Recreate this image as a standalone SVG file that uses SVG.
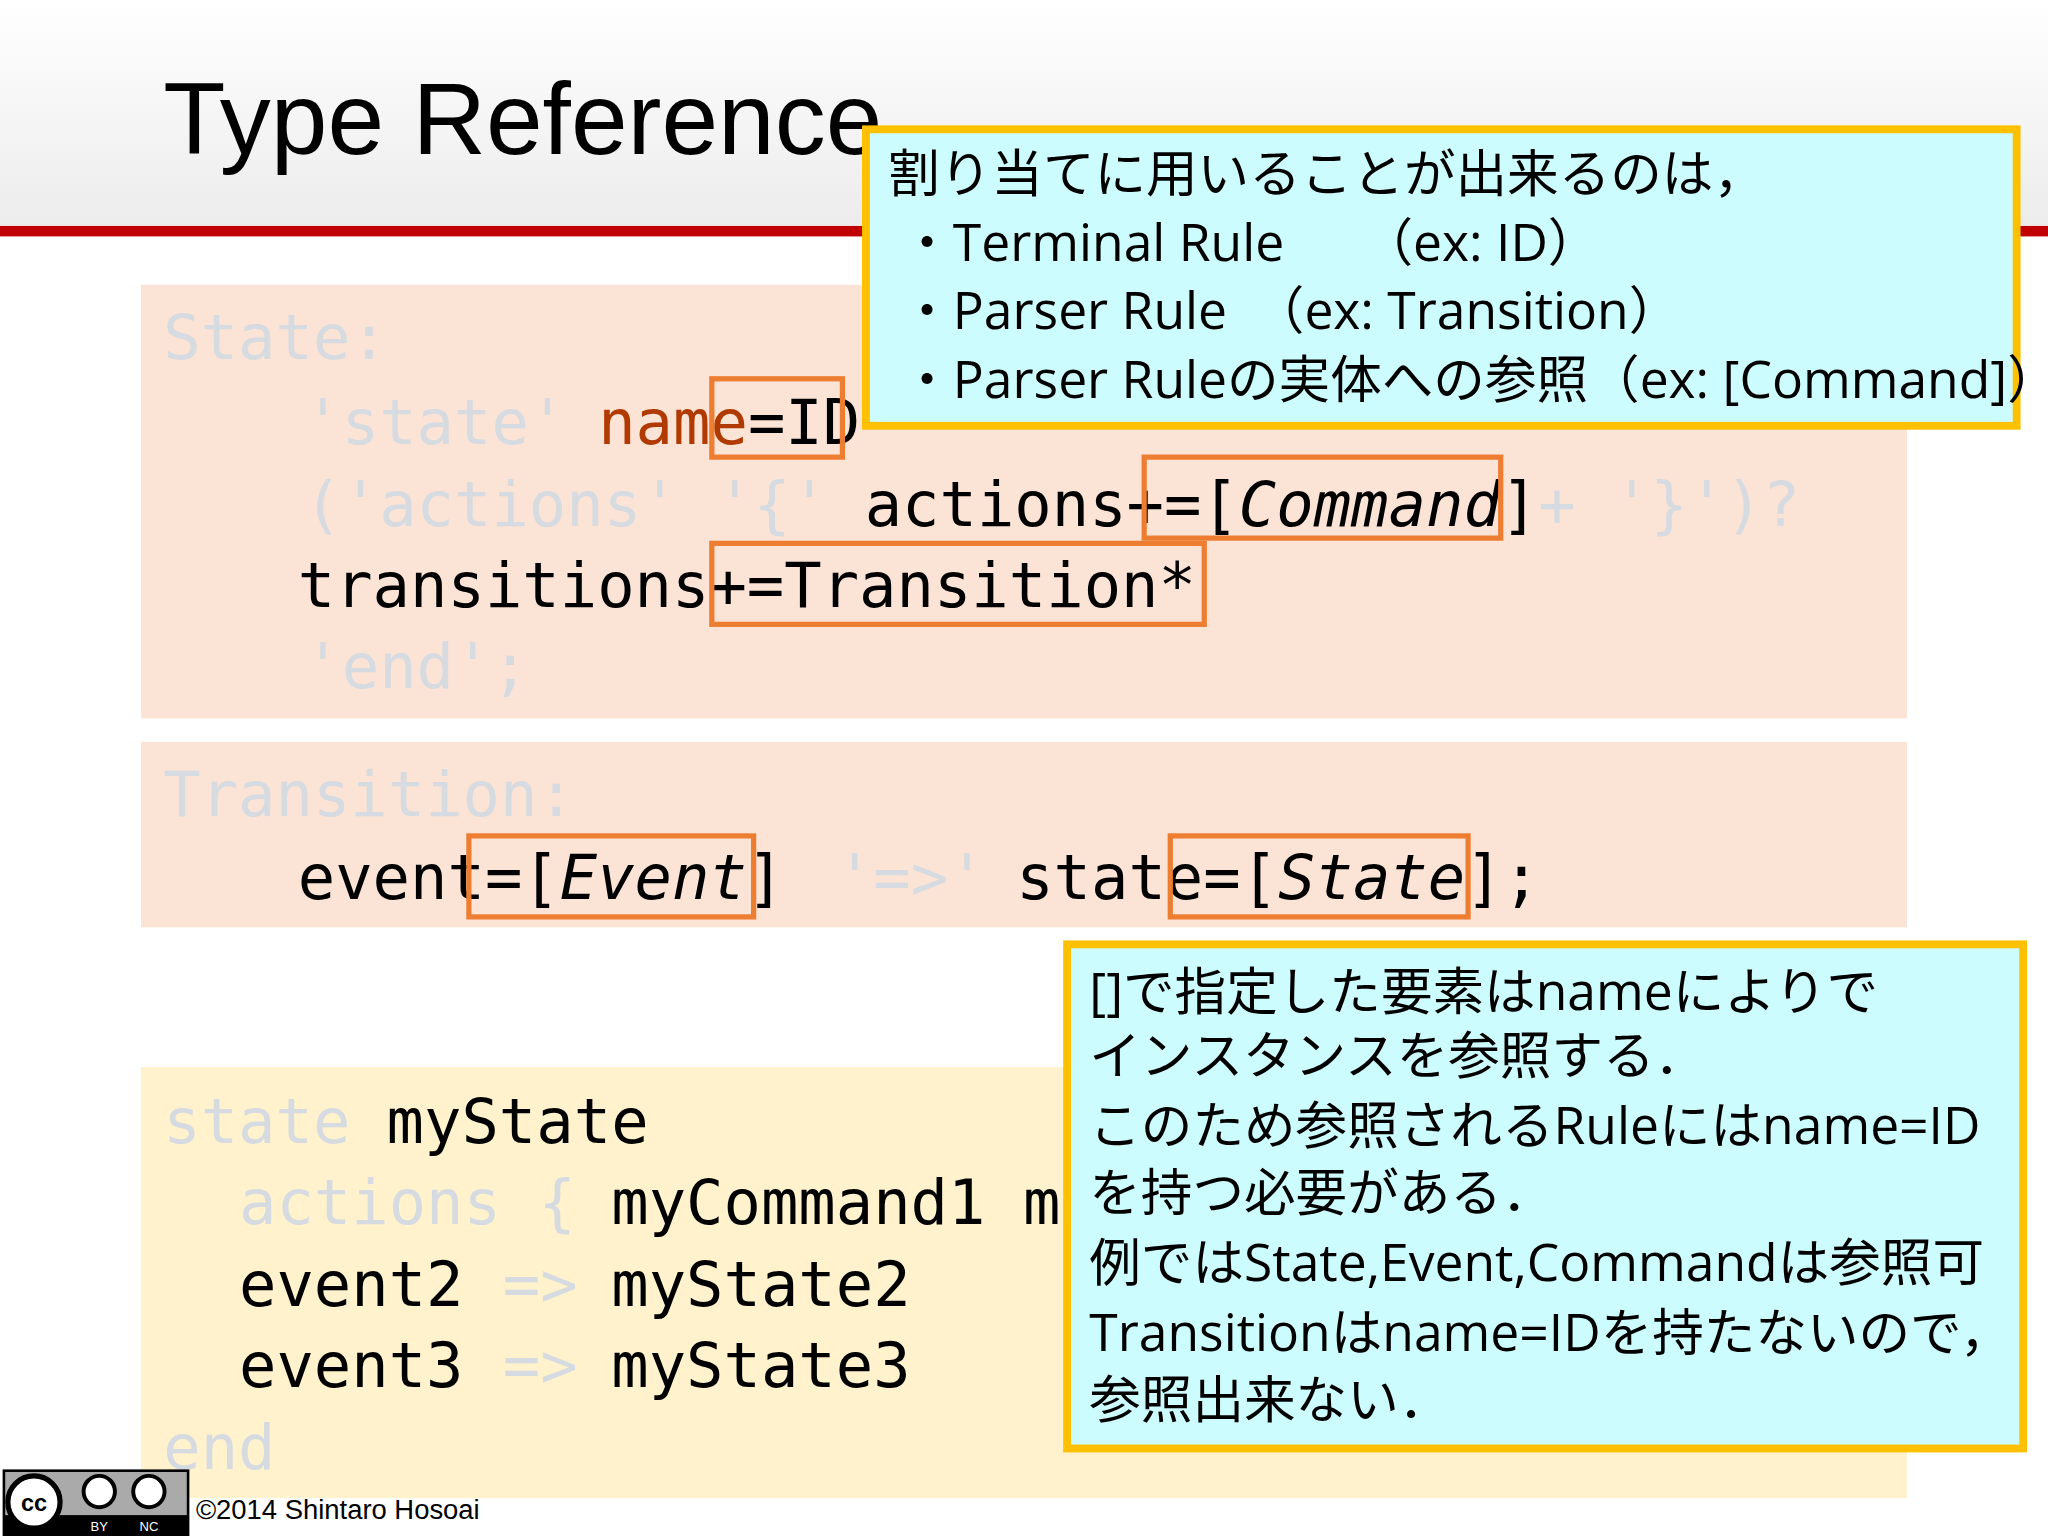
<svg xmlns="http://www.w3.org/2000/svg" width="2048" height="1536" viewBox="0 0 2048 1536">
<defs>
<linearGradient id="hd" x1="0" y1="0" x2="0" y2="1"><stop offset="0" stop-color="#ffffff"/><stop offset="1" stop-color="#ececec"/></linearGradient>
<style>
.c{font-family:"DejaVu Sans Mono",monospace;font-size:47.6px;fill:#000}
.g{fill:#d5dbe0}
.i{font-style:italic}
.hl{fill:none;stroke:#ed7d31;stroke-width:4}
.co{fill:#ccfcfd;stroke:#ffc000;stroke-width:6}
.j{font-family:"Open Sans","Noto Sans CJK JP",sans-serif;font-size:39.5px;fill:#000}
</style>
</defs>
<rect width="2048" height="1536" fill="#fff"/>
<g transform="scale(1.30612)">
<rect x="0" y="0" width="1568" height="173" fill="url(#hd)"/>
<rect x="0" y="173" width="1568" height="8" fill="#c00000"/>
<text x="125" y="118" font-family="Liberation Sans,Arial,sans-serif" font-size="78" fill="#000">Type Reference</text>
<g id="grammar-state">
<rect x="108" y="218" width="1352" height="332" fill="#fbe3d6"/>
<text class="c g" x="125" y="275">State:</text>
<text class="c" x="233" y="340"><tspan class="g">'state'</tspan><tspan x="458" fill="#b03a00">name</tspan>=ID</text>
<text class="c" x="233" y="403"><tspan class="g">('actions' '{'</tspan><tspan x="662">actions+=[</tspan><tspan class="i">Command</tspan>]<tspan class="g">+ '}')?</tspan></text>
<text class="c" x="228" y="465">transitions+=Transition*</text>
<text class="c g" x="233" y="527">'end';</text>
</g>
<g id="grammar-transition">
<rect x="108" y="568" width="1352" height="142" fill="#fbe3d6"/>
<text class="c g" x="125" y="625">Transition:</text>
<text class="c" x="228" y="688">event=[<tspan class="i">Event</tspan>]<tspan x="640" class="g">'=&gt;'</tspan><tspan x="778">state=[</tspan><tspan class="i">State</tspan>];</text>
</g>
<g id="example">
<rect x="108" y="817" width="1352" height="330" fill="#fff2cc"/>
<text class="c" x="125" y="875"><tspan class="g">state</tspan><tspan x="296">myState</tspan></text>
<text class="c" x="183" y="937"><tspan class="g">actions {</tspan><tspan x="468">myCommand1 m</tspan></text>
<text class="c" x="183" y="1000">event2<tspan x="385" class="g">=&gt;</tspan><tspan x="468">myState2</tspan></text>
<text class="c" x="183" y="1062">event3<tspan x="385" class="g">=&gt;</tspan><tspan x="468">myState3</tspan></text>
<text class="c g" x="125" y="1125">end</text>
</g>
<g id="highlights">
<rect class="hl" x="545" y="290" width="100" height="60"/>
<rect class="hl" x="876" y="350" width="273" height="62"/>
<rect class="hl" x="545" y="416" width="377" height="62"/>
<rect class="hl" x="359" y="640" width="218" height="62"/>
<rect class="hl" x="896" y="640" width="228" height="62"/>
</g>
<g id="callout1">
<rect class="co" x="663" y="99" width="881" height="227"/>
<text class="j" x="680" y="147">割り当てに用いることが出来るのは，</text>
<text class="j" x="690" y="200">・Terminal Rule　　（ex: ID）</text>
<text class="j" x="690" y="252">・Parser Rule　（ex: Transition）</text>
<text class="j" x="690" y="305">・Parser Ruleの実体への参照（ex: [Command]）</text>
</g>
<g id="callout2">
<rect class="co" x="817" y="723" width="732" height="386"/>
<text class="j" x="834" y="773">[]で指定した要素はnameによりで</text>
<text class="j" x="834" y="822">インスタンスを参照する．</text>
<text class="j" x="834" y="876">このため参照されるRuleにはname=ID</text>
<text class="j" x="834" y="927">を持つ必要がある．</text>
<text class="j" x="834" y="981">例ではState,Event,Commandは参照可</text>
<text class="j" x="834" y="1034">Transitionはname=IDを持たないので，</text>
<text class="j" x="834" y="1086">参照出来ない．</text>
</g>
<g id="license">
<rect x="2" y="1125" width="143" height="51" fill="#000"/>
<rect x="4" y="1127" width="139" height="33" fill="#aaa"/>
<circle cx="26" cy="1150" r="20" fill="#fff" stroke="#000" stroke-width="4"/>
<text x="26" y="1157" text-anchor="middle" font-family="Liberation Sans,sans-serif" font-weight="bold" font-size="18">cc</text>
<circle cx="76" cy="1142" r="12" fill="#fff" stroke="#000" stroke-width="3"/>
<circle cx="114" cy="1142" r="12" fill="#fff" stroke="#000" stroke-width="3"/>
<text x="76" y="1172" text-anchor="middle" font-family="Liberation Sans,sans-serif" font-size="10" fill="#fff">BY</text>
<text x="114" y="1172" text-anchor="middle" font-family="Liberation Sans,sans-serif" font-size="10" fill="#fff">NC</text>
<text x="150" y="1163" font-family="Liberation Sans Narrow,Liberation Sans,sans-serif" font-size="21" fill="#000">©2014 Shintaro Hosoai</text>
</g>
</g>
</svg>
